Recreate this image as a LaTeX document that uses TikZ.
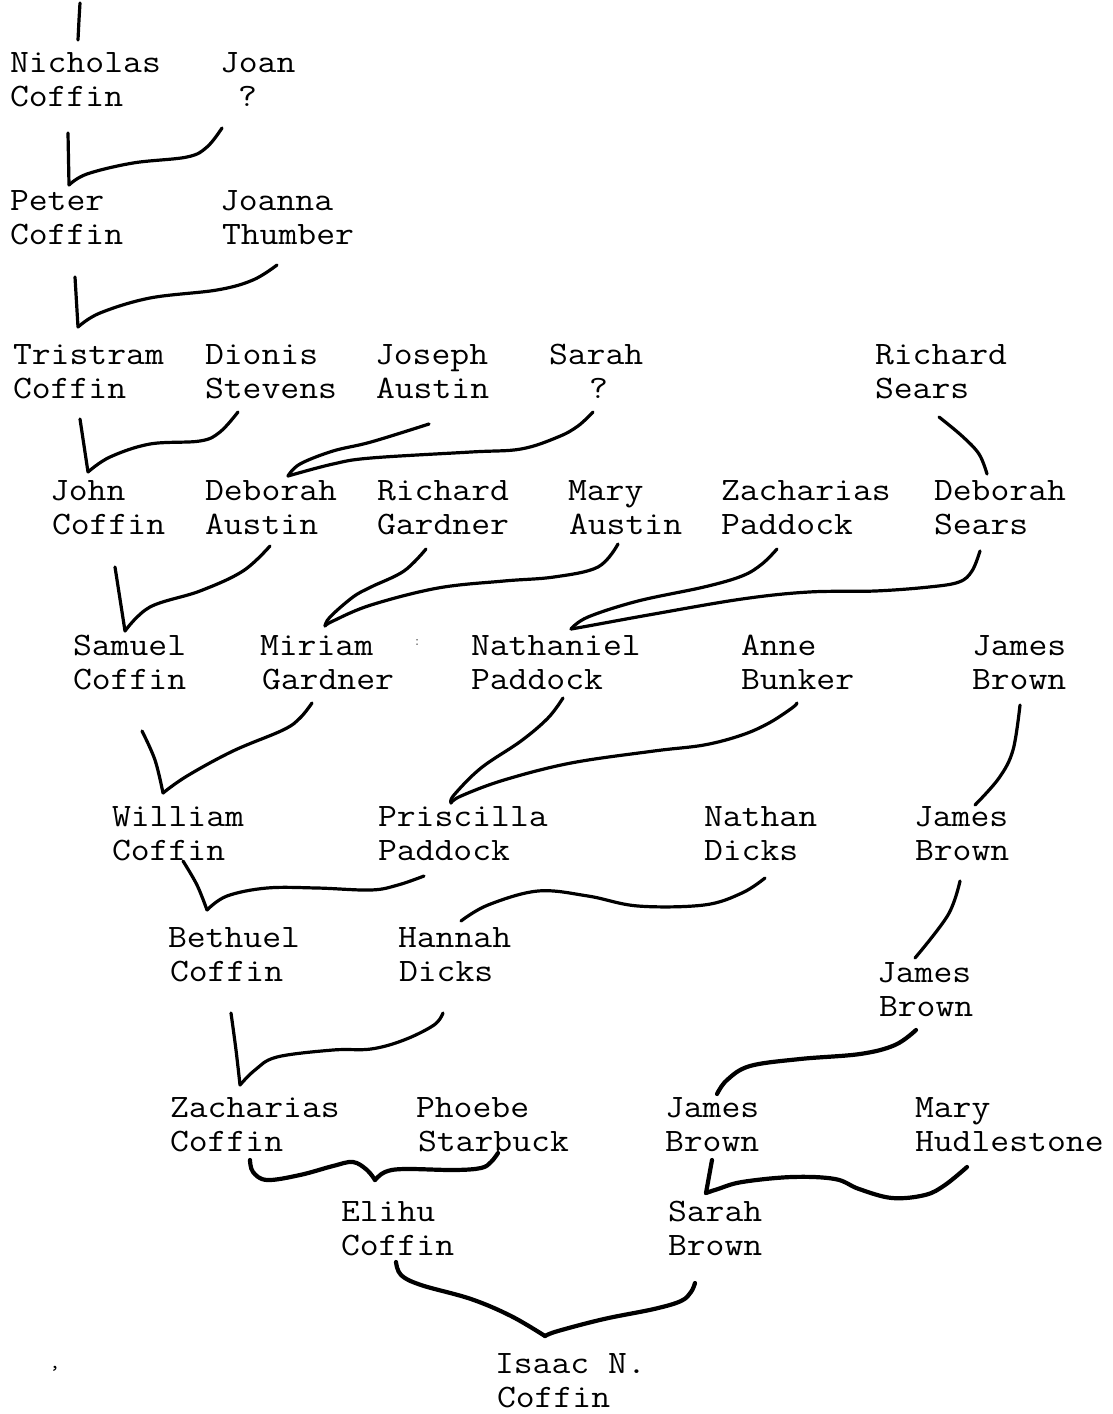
\documentclass[tikz,border=0pt]{standalone}
\usepackage{fontspec}
\tikzset{
  nm/.style={inner sep=0pt, outer sep=0pt, anchor=base west, xscale=1.12,
    font=\fontsize{32.7}{34}\selectfont\ttfamily},
  pen/.style={line width=3.2pt, line cap=round, line join=round},
  bpen/.style={line width=4.2pt, line cap=round, line join=round},
  sm/.style={smooth, tension=0.6}
}
\newcommand\pp[6]{%
  \node[nm] (#1a) at (#2,#4) {#5};
  \node[nm] (#1b) at (#3,#4+34) {#6};}
\begin{document}
\begin{tikzpicture}[x=1pt,y=-1pt]
\useasboundingbox (0,0) rectangle (1113,1414);
% row 1
\pp{nich}{10}{10}{72}{Nicholas}{Coffin}
\pp{joan}{220}{238}{72}{Joan}{?}
% row 2
\pp{peter}{10}{10}{210}{Peter}{Coffin}
\pp{joanna}{220}{222}{210}{Joanna}{Thumber}
% row 3
\pp{tris}{13}{13}{364}{Tristram}{Coffin}
\pp{dion}{205}{205}{364}{Dionis}{Stevens}
\pp{jos}{375}{376}{364}{Joseph}{Austin}
\pp{sarah}{549}{589}{364}{Sarah}{?}
\pp{rsears}{875}{875}{364}{Richard}{Sears}
% row 4
\pp{john}{50}{52}{500}{John}{Coffin}
\pp{deba}{205}{205}{500}{Deborah}{Austin}
\pp{rgard}{377}{377}{500}{Richard}{Gardner}
\pp{mary}{568}{569}{500}{Mary}{Austin}
\pp{zpad}{721}{721}{500}{Zacharias}{Paddock}
\pp{debs}{934}{934}{500}{Deborah}{Sears}
% row 5
\pp{sam}{73}{73}{655}{Samuel}{Coffin}
\pp{mir}{260}{262}{655}{Miriam}{Gardner}
\pp{nat}{471}{471}{655}{Nathaniel}{Paddock}
\pp{anne}{741}{741}{655}{Anne}{Bunker}
\pp{jbA}{972}{972}{655}{James}{Brown}
% row 6
\pp{will}{112}{112}{826}{William}{Coffin}
\pp{pris}{378}{378}{826}{Priscilla}{Paddock}
\pp{nathan}{704}{704}{826}{Nathan}{Dicks}
\pp{jbB}{914}{915}{826}{James}{Brown}
% row 7
\pp{beth}{168}{170}{947}{Bethuel}{Coffin}
\pp{hann}{398}{399}{947}{Hannah}{Dicks}
\pp{jbC}{877}{879}{982}{James}{Brown}
% row 8
\pp{zcof}{170}{170}{1117}{Zacharias}{Coffin}
\pp{phoe}{416}{418}{1117}{Phoebe}{Starbuck}
\pp{jbD}{665}{665}{1117}{James}{Brown}
\pp{maryh}{915}{915}{1117}{Mary}{Hudlestone}
% row 9
\pp{eli}{341}{341}{1221}{Elihu}{Coffin}
\pp{sarb}{668}{668}{1221}{Sarah}{Brown}
% row 10
\pp{isaac}{495}{497}{1373}{Isaac N.}{Coffin}
% specks
\node[nm, text=black!60, font=\fontsize{14}{14}\selectfont\ttfamily] (speck1) at (413,645) {:};
\node[nm, font=\fontsize{20}{20}\selectfont\ttfamily] (speck2) at (49,1368) {,};
% connectors
\draw[pen] plot[sm] coordinates {(80,3) (79,20) (78,40)};
\draw[pen] (68,133) -- (69,185);
\draw[pen] plot[sm] coordinates {(69,185) (87,174) (133,163) (187,157) (207,147) (222,128)};
\draw[pen] (75,277) -- (78,327);
\draw[pen] plot[sm] coordinates {(78,327) (100,313) (150,298) (217,290) (253,280) (277,265)};
\draw[pen] (80,419) -- (88,472);
\draw[pen] plot[sm] coordinates {(88,472) (110,457) (150,444) (200,441) (220,432) (238,412)};
\draw[pen] plot[sm] coordinates {(429,424) (371,442) (333,451) (300,464) (288,476)};
\draw[pen] plot[sm] coordinates {(288,476) (333,464) (371,458) (471,452) (521,449) (558,437) (578,426) (593,412)};
\draw[pen] plot[sm] coordinates {(939,417) (962,436) (979,454) (987,474)};
\draw[pen] (115,567) -- (125,631);
\draw[pen] plot[sm] coordinates {(125,631) (150,607) (200,591) (243,571) (270,546)};
\draw[pen] plot[sm] coordinates {(426,549) (404,571) (371,587) (353,597) (330,617) (325,626)};
\draw[pen] plot[sm] coordinates {(325,626) (333,621) (371,605) (438,588) (504,581) (554,577) (598,567) (618,544)};
\draw[pen] plot[sm] coordinates {(777,549) (762,564) (742,576) (704,587) (638,601) (588,617) (571,629)};
\draw[pen] plot[sm] coordinates {(571,629) (588,626) (654,614) (742,599) (809,592) (875,591) (929,587) (959,582) (972,571) (980,551)};
\draw[pen] plot[sm] coordinates {(142,731) (155,760) (163,793)};
\draw[pen] plot[sm] coordinates {(163,793) (187,776) (233,751) (283,730) (300,718) (312,703)};
\draw[pen] plot[sm] coordinates {(563,698) (548,718) (521,741) (481,768) (454,795) (451,803)};
\draw[pen] plot[sm] coordinates {(451,803) (461,796) (504,780) (571,763) (654,751) (704,745) (742,735) (769,723) (792,708) (797,703)};
\draw[pen] plot[sm] coordinates {(1020,705) (1013,750) (999,778) (975,805)};
\draw[pen] plot[sm] coordinates {(183,861) (197,885) (207,910)};
\draw[pen] plot[sm] coordinates {(207,910) (227,896) (267,888) (317,888) (371,890) (398,885) (424,876)};
\draw[pen] plot[sm] coordinates {(461,921) (488,905) (538,891) (588,896) (638,906) (704,905) (742,893) (765,878)};
\draw[pen] plot[sm] coordinates {(960,881) (948,915) (915,958)};
\draw[pen] plot[sm] coordinates {(231,1013) (236,1050) (240,1085)};
\draw[pen] plot[sm] coordinates {(240,1085) (255,1070) (277,1057) (333,1050) (371,1049) (404,1040) (434,1025) (443,1013)};
\draw[bpen] plot[sm] coordinates {(916,1030) (895,1045) (860,1054) (800,1059) (750,1066) (727,1080) (717,1094)};
\draw[bpen] plot[sm] coordinates {(250,1160) (253,1172) (267,1180) (300,1175) (333,1166) (353,1162) (367,1170) (375,1180)};
\draw[bpen] plot[sm] coordinates {(375,1180) (385,1172) (404,1169) (454,1170) (481,1168) (491,1162) (498,1153)};
\draw[bpen] (712,1160) -- (706,1193);
\draw[bpen] plot[sm] coordinates {(706,1193) (718,1189) (742,1182) (792,1177) (835,1179) (859,1189) (892,1198) (925,1195) (945,1185) (967,1167)};
\draw[bpen] plot[sm] coordinates {(396,1262) (401,1275) (421,1285) (471,1299) (511,1316) (545,1336)};
\draw[bpen] plot[sm] coordinates {(545,1336) (558,1331) (604,1319) (654,1309) (681,1301) (691,1292) (695,1283)};
\end{tikzpicture}
\end{document}
